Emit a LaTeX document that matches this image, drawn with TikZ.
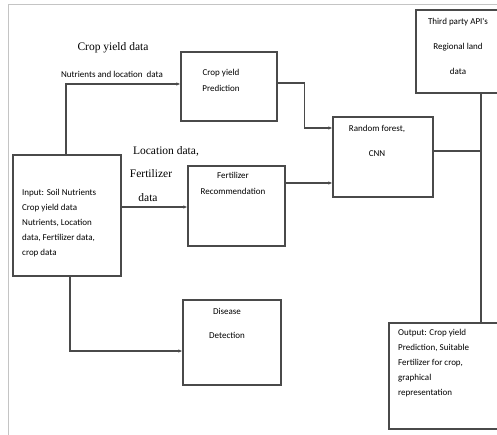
\documentclass[tikz,border=0pt]{standalone}
\usepackage{fontspec}
\setmainfont{Liberation Serif}
\newfontfamily\calfont{Carlito}
\usetikzlibrary{arrows.meta}
\definecolor{lc}{HTML}{4A4A4A}
\definecolor{fc}{HTML}{C4C4C4}
\begin{document}
\begin{tikzpicture}[x=1pt,y=-1pt,
  box/.style={draw=lc, line width=1.3pt, inner sep=0, fill=none},
  con/.style={draw=lc, line width=1.2pt},
  arr/.style={con, -{Latex[length=4pt,width=3.5pt]}},
  bt/.style={font=\calfont\fontsize{9}{16}\selectfont, align=center, inner sep=0, anchor=north},
  bl/.style={font=\calfont\fontsize{9}{15}\selectfont, align=left, inner sep=0, anchor=north west},
  lt/.style={font=\fontsize{11.5}{13}\selectfont, inner sep=0},
  st/.style={font=\calfont\fontsize{9}{11}\selectfont, inner sep=0}]
\useasboundingbox (0,0) rectangle (497,435);
\clip (0,0) rectangle (497,435);
% frame
\draw[fc, line width=0.8pt] (8,440) -- (8,4) -- (505,4);
% boxes
\node[box, minimum width=96pt, minimum height=69pt] (cyp) at (229,86.5) {};
\node[box, minimum width=97pt, minimum height=80pt] (fert) at (236.5,206) {};
\node[box, minimum width=100pt, minimum height=80pt] (rf) at (383,157) {};
\node[box, minimum width=81.5pt, minimum height=83pt] (tp) at (456.75,51.5) {};
\node[box, minimum width=112pt, minimum height=106pt] (out) at (445,376) {};
\node[box, minimum width=98pt, minimum height=85pt] (dis) at (232,342.5) {};
\node[box, minimum width=108pt, minimum height=121pt] (in) at (67,215.5) {};
% box texts
\node[bt] (cypt) at (221,69) {Crop yield\\Prediction};
\node[bt] (fertt) at (233,172) {Fertilizer\\Recommendation};
\node[bt, font=\calfont\fontsize{9}{25}\selectfont] (rft) at (377,125) {Random forest,\\CNN};
\node[bt, font=\calfont\fontsize{9}{25}\selectfont] (tpt) at (458,18) {Third party API's\\Regional land\\data};
\node[bt, font=\calfont\fontsize{9}{24}\selectfont] (dist) at (227,308) {Disease\\Detection};
\node[bl] (int) at (22,189) {Input: Soil Nutrients\\Crop yield data\\Nutrients, Location\\data, Fertilizer data,\\crop data};
\node[bl] (outt) at (398,329) {Output: Crop yield\\Prediction, Suitable\\Fertilizer for crop,\\graphical\\representation};
% labels
\node[lt] (l1) at (113,48) {Crop yield data};
\node[st] (l2) at (112,74) {Nutrients and location\ \ data};
\node[lt] (l3) at (166,151) {Location data,};
\node[lt] (l4) at (151,174) {Fertilizer};
\node[lt] (l5) at (148,198) {data};
% connectors
\draw[arr] ([xshift=-1pt]in.north) |- ([yshift=2.5pt]cyp.west);
\draw[arr] ([yshift=8.5pt]in.east) -- ([yshift=8.5pt]in.east -| fert.west);
\draw[arr] ([xshift=3pt]in.south) |- ([yshift=-8.5pt]dis.west);
\draw[arr] ([yshift=3.5pt]cyp.east) -- ++(27,0) |- ([yshift=29pt]rf.west);
\draw[arr] ([yshift=23pt]fert.east) -- ([yshift=23pt]fert.east -| rf.west);
\coordinate (v) at ([xshift=24.25pt]tp.south);
\draw[con] (v) -- (v |- out.north);
\draw[con] ([yshift=6pt]rf.east) -- ([yshift=6pt]rf.east -| v);
\end{tikzpicture}
\end{document}
